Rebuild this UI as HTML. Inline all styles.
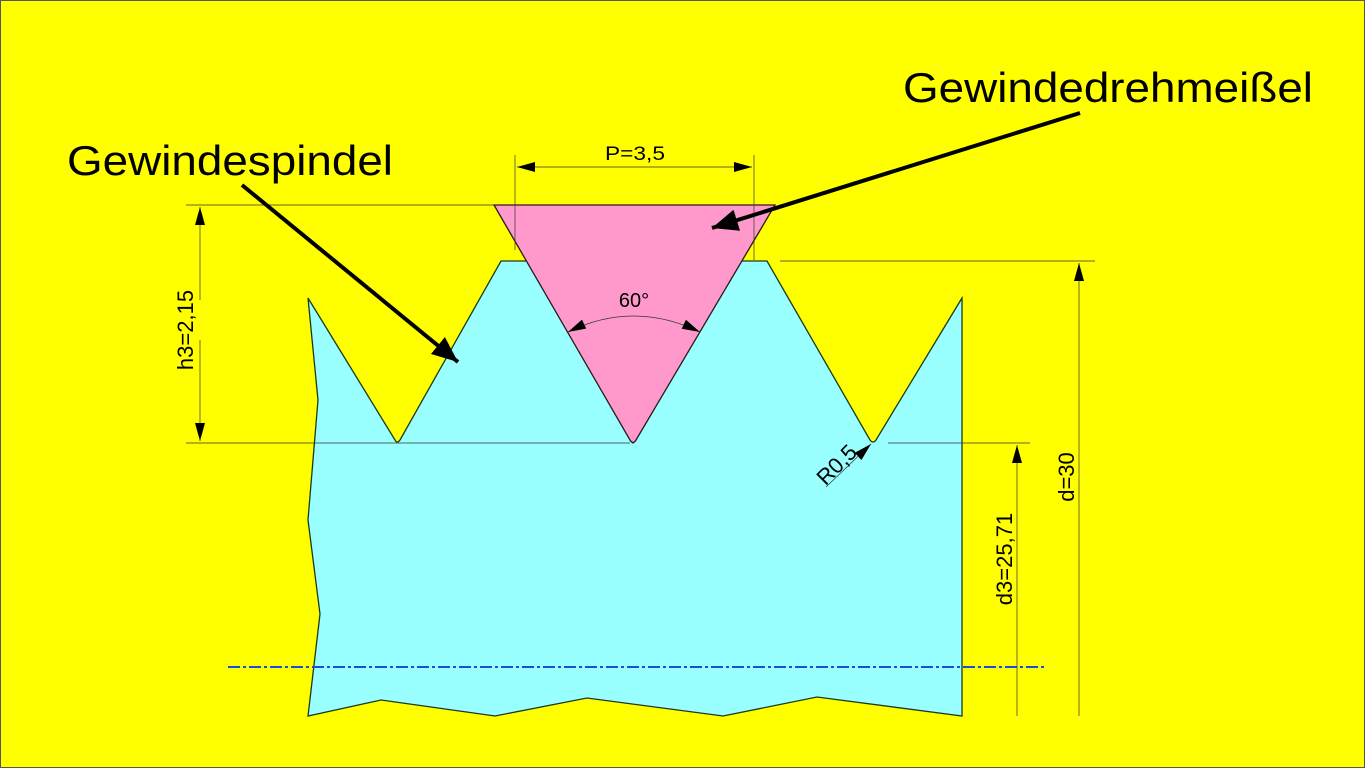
<!DOCTYPE html>
<html><head><meta charset="utf-8"><style>
html,body{margin:0;padding:0;background:#ffff00;}
svg{display:block}
text{font-family:"Liberation Sans",Arial,sans-serif;fill:#000}
</style></head><body>
<svg width="1365" height="768" viewBox="0 0 1365 768" xmlns="http://www.w3.org/2000/svg">
<defs>
<marker id="ahs" viewBox="0 0 10 10" refX="10" refY="5" markerWidth="18" markerHeight="10" markerUnits="userSpaceOnUse" orient="auto-start-reverse" preserveAspectRatio="none"><path d="M0,0 L10,5 L0,10 z" fill="#000"/></marker>
<marker id="big" viewBox="0 0 10 10" refX="10" refY="5" markerWidth="26" markerHeight="22" markerUnits="userSpaceOnUse" orient="auto" preserveAspectRatio="none"><path d="M0,0 L10,5 L0,10 z" fill="#000"/></marker>
</defs>
<rect x="0" y="0" width="1365" height="768" fill="#ffff00"/>
<rect x="0.5" y="0.5" width="1364" height="767" fill="none" stroke="#555" stroke-width="1"/>
<path d="M308,298 L395,440 Q397,444 400,440 L501,261 L530,261 L633,443 L740,261 L767,261 L870,440 Q873,444 876,440 L962,298 L962,716 L817,697 L723,716 L587,698 L495,716 L381,700 L308,716 L320,614 L308,520 L318,400 Z" fill="#99ffff" stroke="#1a3a1a" stroke-width="1.3"/>
<path d="M494,205 L775,205 L636,440 Q633,445 630,440 Z" fill="#ff99cc" stroke="#2a1a1a" stroke-width="1.3"/>
<g stroke="#333" stroke-width="0.7" fill="none">
<line x1="186" y1="205" x2="494" y2="205"/>
<line x1="186" y1="443" x2="630" y2="443"/>
<line x1="888" y1="443" x2="1030" y2="443"/>
<line x1="780" y1="261" x2="1095" y2="261"/>
<line x1="515" y1="155" x2="515" y2="250"/>
<line x1="754" y1="155" x2="754" y2="260"/>
<line x1="1017" y1="716" x2="1017" y2="445" marker-end="url(#ahs)"/>
<line x1="1079" y1="716" x2="1079" y2="263" marker-end="url(#ahs)"/>
<line x1="200" y1="300" x2="200" y2="207" marker-end="url(#ahs)"/>
<line x1="200" y1="340" x2="200" y2="441" marker-end="url(#ahs)"/>
<line x1="634" y1="167" x2="517" y2="167" marker-end="url(#ahs)"/>
<line x1="634" y1="167" x2="752" y2="167" marker-end="url(#ahs)"/>
<path d="M568,332 Q633,300 700,332" marker-start="url(#ahs)" marker-end="url(#ahs)"/>
<line x1="826" y1="487" x2="871" y2="444" marker-end="url(#ahs)"/>
</g>
<line x1="228" y1="667" x2="1046" y2="667" stroke="#1a4fd0" stroke-width="2" stroke-dasharray="12,3,3,3"/>
<line x1="242" y1="185" x2="458" y2="362" stroke="#000" stroke-width="4" marker-end="url(#big)"/>
<line x1="1080" y1="113" x2="712" y2="228" stroke="#000" stroke-width="4" marker-end="url(#big)"/>
<text x="67" y="175" font-size="42" textLength="326" lengthAdjust="spacingAndGlyphs">Gewindespindel</text>
<text x="903" y="102" font-size="42" textLength="410" lengthAdjust="spacingAndGlyphs">Gewindedrehmeißel</text>
<text x="605" y="160" font-size="19" textLength="60" lengthAdjust="spacingAndGlyphs">P=3,5</text>
<text x="634" y="307" font-size="20" text-anchor="middle">60°</text>
<text transform="translate(193,330) rotate(-90)" font-size="22" text-anchor="middle">h3=2,15</text>
<text transform="translate(1074,477) rotate(-90)" font-size="22" text-anchor="middle">d=30</text>
<text transform="translate(1012,559) rotate(-90)" font-size="22" text-anchor="middle">d3=25,71</text>
<text transform="translate(842,470) rotate(-45)" font-size="22" text-anchor="middle">R0,5</text>
</svg>
</body></html>
